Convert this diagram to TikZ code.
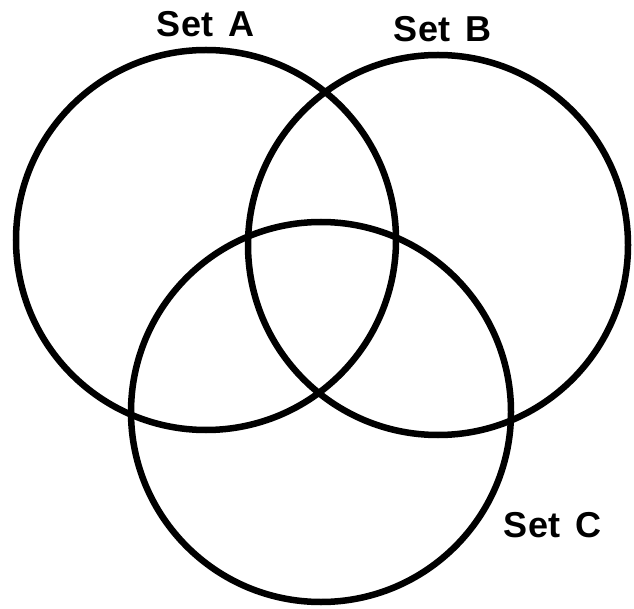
\documentclass[tikz,border=0pt]{standalone}
\usepackage{fontspec}
\setmainfont{Liberation Sans}
\begin{document}
\begin{tikzpicture}[x=1pt,y=-1pt,
  setcircle/.style={draw=black,line width=6.5pt,circle,minimum size=380pt,inner sep=0pt},
  setlabel/.style={font=\fontsize{36}{36}\selectfont\bfseries,inner sep=0pt}]
\useasboundingbox (0,0) rectangle (634,609);
\node[setcircle] (A) at (206,240) {};
\node[setcircle] (B) at (438,245) {};
\node[setcircle] (C) at (321,412) {};
\node[setlabel] (la) at (206,24) {Set\, A};
\node[setlabel] (lb) at (443,29) {Set\, B};
\node[setlabel] (lc) at (553,525) {Set\, C};
\end{tikzpicture}
\end{document}
